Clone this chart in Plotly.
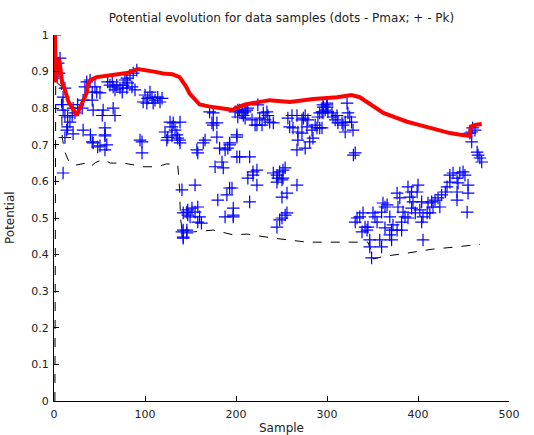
import plotly.graph_objects as go

# Pmax (red dots)
pmax_x = [1, 2, 3, 4, 5, 6, 7, 8, 9, 12, 14, 16, 18, 21, 25, 26, 29, 32, 36, 37, 40, 47, 62, 80, 92, 102,
          110, 120, 130, 138, 145, 149, 155, 160, 170, 186, 197, 199, 210, 219, 237, 259, 285, 311, 327,
          336, 344, 358, 362, 375, 388, 400, 413, 424, 435, 445, 457, 458, 464, 470]
pmax_y = [1.0, 0.87, 0.90, 0.92, 0.93, 0.93, 0.91, 0.88, 0.869, 0.85, 0.83, 0.817, 0.809, 0.795, 0.78, 0.787,
          0.803, 0.822, 0.842, 0.863, 0.877, 0.885, 0.89, 0.896, 0.907, 0.904,
          0.90, 0.895, 0.893, 0.885, 0.86, 0.84, 0.825, 0.81, 0.805, 0.80, 0.795, 0.80, 0.81, 0.814, 0.822,
          0.817, 0.825, 0.83, 0.836, 0.83, 0.817, 0.795, 0.787, 0.775, 0.763, 0.755, 0.746, 0.738, 0.732,
          0.728, 0.724, 0.75, 0.755, 0.757]

# dashed black line
thr_x = [1, 2, 3, 8, 9, 12, 17, 25, 35, 40, 46, 54, 62, 76, 88, 98, 108, 116, 124, 136, 138, 139, 141,
         153, 175, 197, 212, 241, 278, 296, 314, 342, 345, 347, 349, 351, 362, 388, 416, 438, 468]
thr_y = [0.0, 1.0, 0.87, 0.86, 0.72, 0.68, 0.65, 0.645, 0.65, 0.64, 0.652, 0.66, 0.65, 0.65, 0.645, 0.64,
         0.64, 0.642, 0.648, 0.645, 0.58, 0.50, 0.462, 0.462, 0.467, 0.454, 0.456, 0.445, 0.434, 0.434,
         0.434, 0.432, 0.434, 0.42, 0.41, 0.388, 0.395, 0.404, 0.415, 0.42, 0.428]

# Pk (blue +)
pk_x = [1, 6.6, 4.5, 3, 5.5, 12, 10, 9, 10, 12, 15, 20, 23, 17.5, 15, 14, 21, 26, 32, 31, 34, 36, 39.6, 42,
        45, 47, 50.5, 42, 43, 54, 53, 32, 40, 43, 56, 56, 58, 48, 56, 10, 12, 21, 50.5, 56, 42, 65, 67,
        59, 61.5, 65, 69, 72.5, 76, 78, 80, 83.5, 87, 91, 80, 85.7, 89, 81, 75, 67, 64, 94.5, 96.7, 96.7,
        100, 103, 107.7, 111, 114, 118.7, 102, 109, 116.5, 98, 105.5, 127.5, 131, 129.6, 133, 135, 138,
        122, 124, 129.6, 136, 138.5, 125, 138.5,
        140.6, 142, 147, 142, 146, 142, 146, 147, 140.6, 142, 151.6, 146, 155, 158, 149.5, 160, 158, 162,
        155, 171, 175, 173.6, 179, 175, 166, 164, 157, 158, 179, 182, 188, 191, 193, 184.6, 186, 177,
        193, 190, 180, 188, 197, 197, 197,
        199, 202, 204, 210, 208, 202, 213, 217.6, 221, 224, 226, 230, 232, 234, 235, 237, 241, 228.6,
        206.6, 212, 210, 223, 201, 201, 201, 193, 204, 215, 195.6, 213, 218.7, 223, 223, 215, 218.7,
        241, 245, 248, 251.6, 254, 246, 250.5, 245, 251.6, 267, 256, 250.5, 254, 250.5, 245, 248, 256,
        257, 261.5, 259, 262.6, 267, 272.5, 276, 279, 278, 272.5, 268, 283.5, 284.6, 281, 276, 267, 287,
        290, 292, 294.5, 298, 300, 274, 268, 289, 292, 296, 300,
        295.6, 300, 295.6, 301, 305.5, 306.6, 311, 309, 312, 316.5, 320, 322, 323, 325, 327, 320, 328.6,
        294.5, 317.6, 331, 329,
        333, 336, 331, 339.6, 341.8, 338.5, 345, 344, 350.5, 352.7, 355, 361.5, 363.7, 366, 360, 369,
        363.7, 371, 369, 358, 360, 347, 349, 347,
        377, 380, 378, 383.5, 385.7, 382, 372.5, 377, 371, 382,
        389, 393, 400, 399, 391, 394.5, 404, 402, 393, 397, 389, 405.5, 410, 413, 404, 405.5,
        411, 415, 418.7, 422, 426, 430, 431.9, 435, 424, 416.5, 435, 438.5, 442.9, 446, 449.5, 451.6,
        444, 455, 455, 442.9, 442.9, 454,
        460, 459, 462.6, 459, 465, 466, 468, 470, 457]
pk_y = [1.0, 0.937, 0.923, 0.896, 0.896, 0.855, 0.83, 0.81, 0.795, 0.78, 0.776, 0.78, 0.787, 0.762, 0.749,
        0.74, 0.80, 0.81, 0.822, 0.80, 0.858, 0.872, 0.877, 0.844, 0.858, 0.844, 0.842, 0.822, 0.795,
        0.795, 0.78, 0.74, 0.727, 0.705, 0.746, 0.727, 0.70, 0.694, 0.686, 0.623, 0.72, 0.73, 0.697,
        0.724, 0.708, 0.80, 0.78,
        0.872, 0.863, 0.858, 0.863, 0.855, 0.863, 0.877, 0.882, 0.89, 0.896, 0.904, 0.855, 0.858, 0.85,
        0.869, 0.844, 0.85, 0.872, 0.713, 0.678, 0.708,
        0.836, 0.827, 0.83, 0.822, 0.83, 0.827, 0.814, 0.814, 0.817, 0.817, 0.844, 0.762, 0.76, 0.749,
        0.74, 0.727, 0.713, 0.735, 0.713, 0.724, 0.718, 0.705, 0.72, 0.762,
        0.577, 0.514, 0.508, 0.467, 0.467, 0.448, 0.459, 0.522, 0.462, 0.445, 0.527, 0.516, 0.516, 0.53,
        0.503, 0.503, 0.489, 0.486, 0.59, 0.79, 0.787, 0.76, 0.76, 0.754, 0.713, 0.705, 0.686, 0.678,
        0.721, 0.691, 0.686, 0.691, 0.705, 0.653, 0.637, 0.64, 0.582, 0.563, 0.549, 0.503, 0.508, 0.527,
        0.503,
        0.79, 0.795, 0.795, 0.79, 0.78, 0.776, 0.80, 0.768, 0.754, 0.809, 0.773, 0.787, 0.768, 0.79, 0.78,
        0.762, 0.76, 0.754, 0.787, 0.795, 0.773, 0.754, 0.727, 0.721, 0.667, 0.70, 0.667, 0.667, 0.582,
        0.609, 0.626, 0.631, 0.59, 0.544, 0.617,
        0.623, 0.617, 0.626, 0.631, 0.637, 0.609, 0.604, 0.598, 0.609, 0.59, 0.568, 0.557, 0.508, 0.50,
        0.475, 0.495, 0.514,
        0.773, 0.78, 0.749, 0.746, 0.78, 0.768, 0.78, 0.768, 0.749, 0.732, 0.713, 0.74, 0.718, 0.708, 0.691,
        0.686, 0.754, 0.776, 0.746, 0.79, 0.795, 0.809, 0.773, 0.735, 0.746, 0.787, 0.803, 0.814,
        0.809, 0.803, 0.787, 0.79, 0.787, 0.776, 0.78, 0.768, 0.76, 0.76, 0.762, 0.814, 0.787, 0.776,
        0.762, 0.735, 0.74, 0.746, 0.754, 0.678, 0.672,
        0.50, 0.503, 0.489, 0.514, 0.475, 0.462, 0.475, 0.467, 0.514, 0.503, 0.489, 0.541, 0.53, 0.536,
        0.516, 0.503, 0.473, 0.467, 0.454, 0.44, 0.421, 0.421, 0.391, 0.44,
        0.568, 0.555, 0.53, 0.516, 0.503, 0.489, 0.481, 0.467, 0.44, 0.467,
        0.585, 0.571, 0.59, 0.571, 0.557, 0.544, 0.544, 0.522, 0.527, 0.514, 0.50, 0.503, 0.514, 0.514,
        0.489, 0.44,
        0.541, 0.544, 0.549, 0.555, 0.563, 0.571, 0.585, 0.598, 0.53, 0.53, 0.617, 0.623, 0.609, 0.623,
        0.626, 0.617, 0.596, 0.59, 0.568, 0.571, 0.549, 0.516,
        0.746, 0.735, 0.74, 0.708, 0.68, 0.672, 0.664, 0.653, 0.732]

x_ticks = [0, 100, 200, 300, 400, 500]
y_ticks = [0, 0.1, 0.2, 0.3, 0.4, 0.5, 0.6, 0.7, 0.8, 0.9, 1]
y_tick_labels = ["0", "0.1", "0.2", "0.3", "0.4", "0.5", "0.6", "0.7", "0.8", "0.9", "1"]

FAM = "DejaVu Sans, Liberation Sans, Arial, sans-serif"
tick_font = dict(family=FAM, size=11, color="#222222")
label_font = dict(family=FAM, size=12, color="#222222")

fig = go.Figure()
fig.add_trace(go.Scatter(x=thr_x, y=thr_y, mode="lines",
                         line=dict(color="black", width=1, dash="dash"), hoverinfo="skip"))
fig.add_trace(go.Scatter(x=pk_x, y=pk_y, mode="markers",
                         marker=dict(symbol="cross-thin", size=9, line=dict(color="#0000ff", width=1.2),
                                     color="#0000ff")))
fig.add_trace(go.Scatter(x=pmax_x, y=pmax_y, mode="lines",
                         line=dict(color="#ff0000", width=4)))

fig.update_layout(
    width=534, height=435,
    margin=dict(l=54, r=25, t=35, b=34, autoexpand=False),
    paper_bgcolor="white", plot_bgcolor="white",
    showlegend=False,
    font=tick_font,
    title=dict(text="Potential evolution for data samples (dots - Pmax; + - Pk)",
               x=281.5 / 534, xanchor="center", y=1 - 18 / 435, yanchor="middle",
               yref="container", automargin=False, font=label_font),
    xaxis=dict(range=[0, 500], tickvals=x_ticks, ticks="inside", ticklen=5, tickcolor="black",
               showline=True, linecolor="black", linewidth=1, showgrid=False, zeroline=False,
               tickfont=tick_font, automargin=False, ticklabelstandoff=3),
    yaxis=dict(range=[0, 1], tickvals=y_ticks, ticktext=y_tick_labels, ticks="inside", ticklen=5,
               tickcolor="black", showline=True, linecolor="black", linewidth=1, showgrid=False,
               zeroline=False, tickfont=tick_font, automargin=False, ticklabelstandoff=2),
    annotations=[
        dict(text="Sample", xref="paper", yref="paper", x=0.5, y=-27 / 366, xanchor="center",
             yanchor="middle", showarrow=False, font=label_font),
        dict(text="Potential", xref="paper", yref="paper", x=-44 / 455, y=0.5, xanchor="center",
             yanchor="middle", textangle=-90, showarrow=False, font=label_font),
    ],
)

fig.write_html("out.html", config={"displayModeBar": False},
               post_script="document.body.style.margin='0';")
